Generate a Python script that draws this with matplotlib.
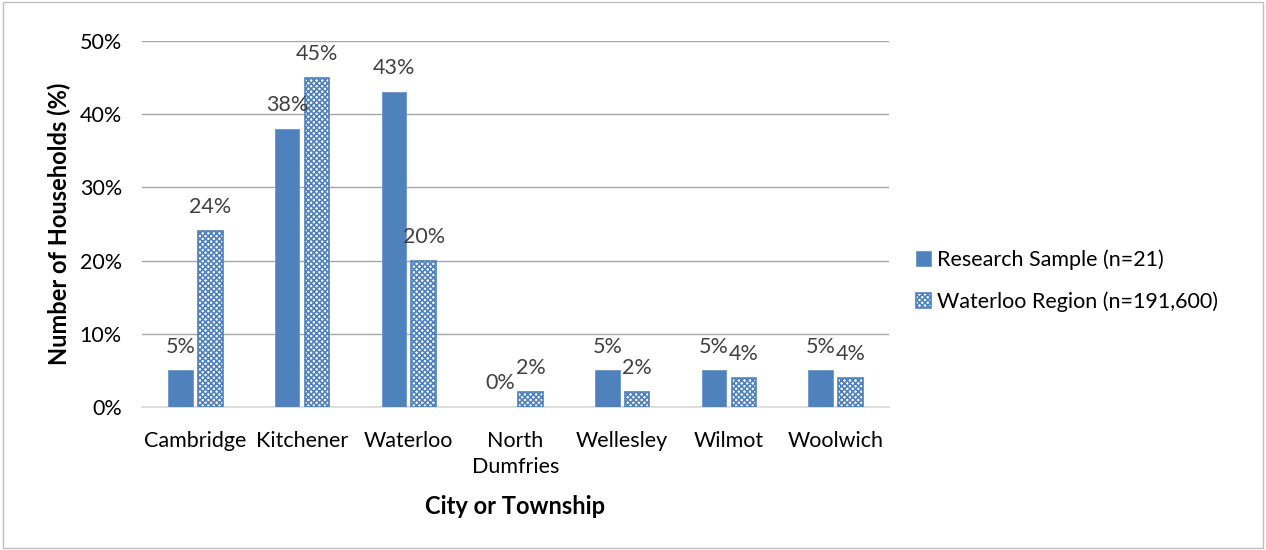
import numpy as np
import matplotlib.pyplot as plt
import matplotlib as mpl

cities = ['Cambridge', 'Kitchener', 'Waterloo', 'North\nDumfries', 'Wellesley', 'Wilmot', 'Woolwich']
sample = [5, 38, 43, 0, 5, 5, 5]
region = [24, 45, 20, 2, 2, 4, 4]
ticks = [0, 10, 20, 30, 40, 50]

blue = '#4f81bd'
mpl.rcParams['font.family'] = ['Lato', 'DejaVu Sans']
mpl.rcParams['hatch.linewidth'] = 1.2

fig = plt.figure(figsize=(12.66, 5.5), dpi=100)
ax = fig.add_axes([0.1122, 0.26, 0.59, 0.6655])

x = np.arange(len(cities))
w = 0.23
b1 = ax.bar(x - w / 2 - 0.025, sample, w, color=blue, edgecolor='#6a96cc', linewidth=0.6,
            label='Research Sample (n=21)', zorder=3)
b2 = ax.bar(x + w / 2 + 0.025, region, w, color='white', edgecolor=blue, hatch='xxxxxx',
            linewidth=1.2, label='Waterloo Region (n=191,600)', zorder=3)

for bars, vals in ((b1, sample), (b2, region)):
    for r, v in zip(bars, vals):
        ax.annotate(f'{v}%', (r.get_x() + r.get_width() / 2, v), xytext=(0, 10),
                    textcoords='offset points', ha='center', va='bottom',
                    fontsize=15.5, color='#404040')

ax.set_xlim(-0.5, len(cities) - 0.5)
ax.set_ylim(0, 50)
ax.set_yticks(ticks)
ax.set_yticklabels([f'{t}%' for t in ticks], fontsize=15.5)
ax.set_xticks(x)
ax.set_xticklabels(cities, fontsize=15.5, linespacing=1.4)
ax.tick_params(length=0)
ax.tick_params(axis='x', pad=17)
ax.tick_params(axis='y', pad=14.5)
ax.yaxis.grid(True, color='#a6a6a6', linewidth=1, zorder=0)
for s in ('top', 'right', 'left'):
    ax.spines[s].set_visible(False)
ax.spines['bottom'].set_color('#d9d9d9')
ax.spines['bottom'].set_linewidth(1.2)

# axis titles placed in figure coordinates
fig.text(0.0466, 0.26 + 0.6655 / 2, 'Number of Households (%)', rotation=90,
         ha='center', va='center', fontsize=17, fontweight='bold')
fig.text(0.1122 + 0.59 / 2, 1 - 507 / 550, 'City or Township',
         ha='center', va='center', fontsize=17, fontweight='bold')

ax.legend(loc='center left', bbox_to_anchor=(1.01, 0.345), frameon=False, fontsize=15.5,
          handlelength=0.7, handleheight=0.7, handletextpad=0.3, labelspacing=1.0)

fig.patches.append(mpl.patches.Rectangle((0.002, 0.003), 0.996, 0.994, transform=fig.transFigure,
                                         fill=False, edgecolor='#bfbfbf', linewidth=1))

fig.savefig('out.png', dpi=100)
